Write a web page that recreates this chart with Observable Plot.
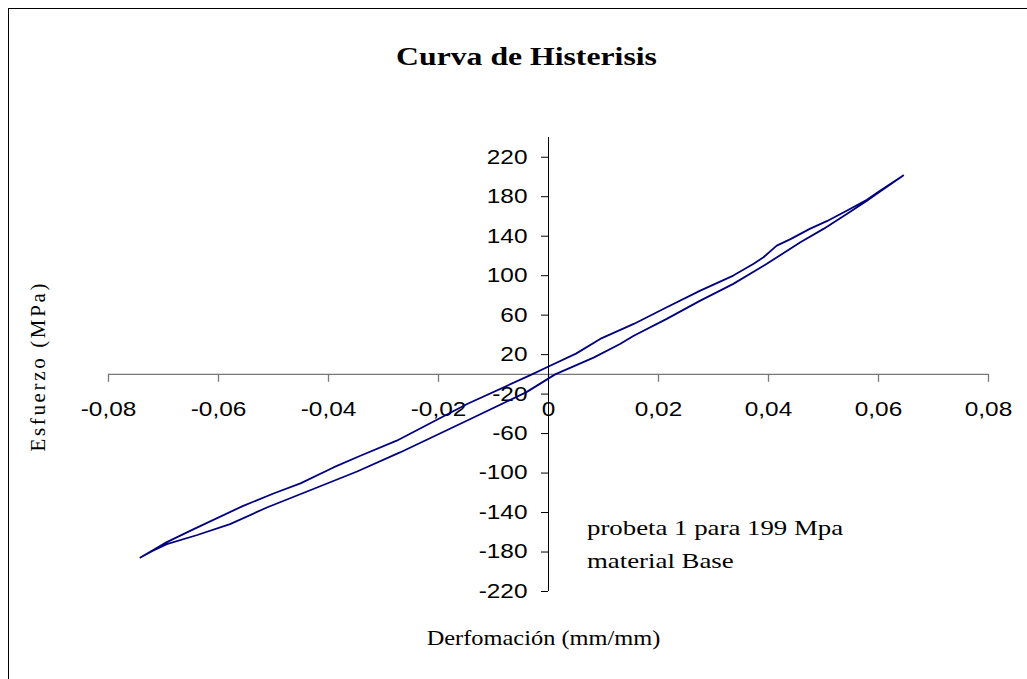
<!DOCTYPE html>
<html>
<head>
<meta charset="utf-8">
<script src="https://cdn.jsdelivr.net/npm/d3@7"></script>
<script src="https://cdn.jsdelivr.net/npm/@observablehq/plot@0.6"></script>
<style>
html, body { margin: 0; padding: 0; background: #fff; }
body { width: 1027px; height: 679px; overflow: hidden; position: relative; }
#frame { position: absolute; left: 8px; top: 8px; width: 1040px; height: 700px; border: 1px solid #000; box-sizing: border-box; z-index: 2; pointer-events: none; }
#chart { position: absolute; left: 0; top: 0; z-index: 1; }
</style>
</head>
<body>
<div id="frame"></div>
<div id="chart"></div>
<script>
// Tick values
const xTicks = [-0.08, -0.06, -0.04, -0.02, 0, 0.02, 0.04, 0.06, 0.08];
const yTicks = [-220, -180, -140, -100, -60, -20, 20, 60, 100, 140, 180, 220];

// Loading branch (lower curve), strain ascending
const loadingStrain = [-0.0742, -0.0720, -0.0694, -0.0640, -0.0579, -0.0512, -0.0439, -0.0348, -0.0270, -0.0142, -0.0040, 0.0012, 0.0082, 0.0130, 0.0155, 0.0215, 0.0276, 0.0336, 0.0397, 0.0458, 0.0500, 0.0543, 0.0579, 0.0597, 0.0645];
const loadingStress = [-185.6, -179, -172, -163, -151.7, -134.9, -118.7, -98.4, -79.1, -45.2, -18, 0, 17, 30.8, 39.2, 56.2, 74.7, 91.7, 112, 133.9, 147.4, 162.7, 176, 183, 201.5];

// Unloading branch (upper curve), strain descending
const unloadingStrain = [0.0645, 0.0600, 0.0579, 0.0543, 0.0506, 0.0475, 0.0440, 0.0415, 0.0391, 0.0373, 0.0336, 0.0276, 0.0215, 0.0155, 0.0094, 0.0050, 0.0000, -0.0030, -0.0148, -0.0276, -0.0342, -0.0391, -0.0451, -0.0500, -0.0555, -0.0645, -0.0694, -0.0742];
const unloadingStress = [201.5, 185, 177, 166, 155.2, 147.4, 137, 130.5, 118.7, 112, 100.1, 84.9, 68, 51.1, 35.9, 21, 8, 0, -30, -67.2, -82.5, -94.3, -110.5, -120.7, -133.2, -156.8, -170, -185.6];

const titleText = "Curva de Histerisis";
const xLabel = "Derfomación (mm/mm)";
const yLabel = "Esfuerzo (MPa)";
const noteText = "probeta 1 para 199 Mpa\nmaterial Base";

const loop = [
  ...loadingStrain.map((s, i) => ({strain: s, stress: loadingStress[i]})),
  ...unloadingStrain.map((s, i) => ({strain: s, stress: unloadingStress[i]}))
];

const fmtX = d => d === 0 ? "0" : d.toFixed(2).replace(".", ",");
const sans = "'Liberation Sans', Arial, sans-serif";
const serif = "'Liberation Serif', 'Times New Roman', serif";

const chart = Plot.plot({
  width: 1027,
  height: 679,
  marginLeft: 108,
  marginRight: 39,
  marginTop: 137,
  marginBottom: 88,
  style: {background: "none", overflow: "visible"},
  x: {domain: [-0.08, 0.08], axis: null},
  y: {domain: [-220, 240], axis: null},
  marks: [
    // x axis line and ticks
    Plot.ruleY([0], {x1: -0.08, x2: 0.08, stroke: "#777", strokeWidth: 1.3}),
    Plot.ruleX(xTicks, {x: d => d, y1: 0, y2: -8, stroke: "#777", strokeWidth: 1.3}),
    // y axis line and ticks
    Plot.ruleX([0], {y1: -220, y2: 240, stroke: "#000"}),
    Plot.ruleY(yTicks, {y: d => d, x1: -0.00127, x2: 0, stroke: "#000"}),
    // tick labels
    Plot.text(xTicks, {x: d => d, y: 0, text: fmtX, dy: 35, fontSize: 20, fontFamily: sans, fill: "#000", lineAnchor: "middle"}),
    Plot.text(yTicks, {x: 0, y: d => d, text: d => String(d), textAnchor: "end", dx: -21, fontSize: 20, fontFamily: sans, fill: "#000", lineAnchor: "middle"}),
    // hysteresis loop
    Plot.line(loop, {x: "strain", y: "stress", stroke: "#000080", strokeWidth: 1.8}),
    // annotation
    Plot.text([noteText], {x: 0.007, y: -196.6, textAnchor: "start", lineAnchor: "bottom", lineHeight: 1.5, fontSize: 22, fontFamily: serif, fill: "#000"}),
    // titles
    Plot.text([titleText], {frameAnchor: "top", dx: -22, dy: -81, textAnchor: "middle", lineAnchor: "middle", fontSize: 26, fontWeight: "bold", fontFamily: serif, fill: "#000"}),
    Plot.text([xLabel], {frameAnchor: "bottom", dx: -5, dy: 47, textAnchor: "middle", lineAnchor: "middle", fontSize: 20, fontFamily: serif, fill: "#000"}),
    Plot.text([yLabel], {frameAnchor: "left", dx: -70, dy: 3, rotate: -90, textAnchor: "middle", lineAnchor: "middle", fontSize: 21, fontFamily: serif, fill: "#000"})
  ]
});

document.getElementById("chart").appendChild(chart);

// Horizontal stretch of the reference's text rendering
const k = 1.22;
chart.querySelectorAll("text").forEach(t => {
  const tr = t.getAttribute("transform") || "";
  if (tr.includes("rotate")) {
    // rotated axis title: spread along its length like the reference
    t.setAttribute("textLength", 168);
    t.setAttribute("lengthAdjust", "spacing");
    return;
  }
  if (tr) {
    t.setAttribute("transform", tr + ` scale(${k},1)`);
  } else {
    const x = +t.getAttribute("x") || 0, y = +t.getAttribute("y") || 0;
    t.removeAttribute("x"); t.removeAttribute("y");
    t.setAttribute("transform", `translate(${x},${y}) scale(${k},1)`);
  }
});
</script>
</body>
</html>
